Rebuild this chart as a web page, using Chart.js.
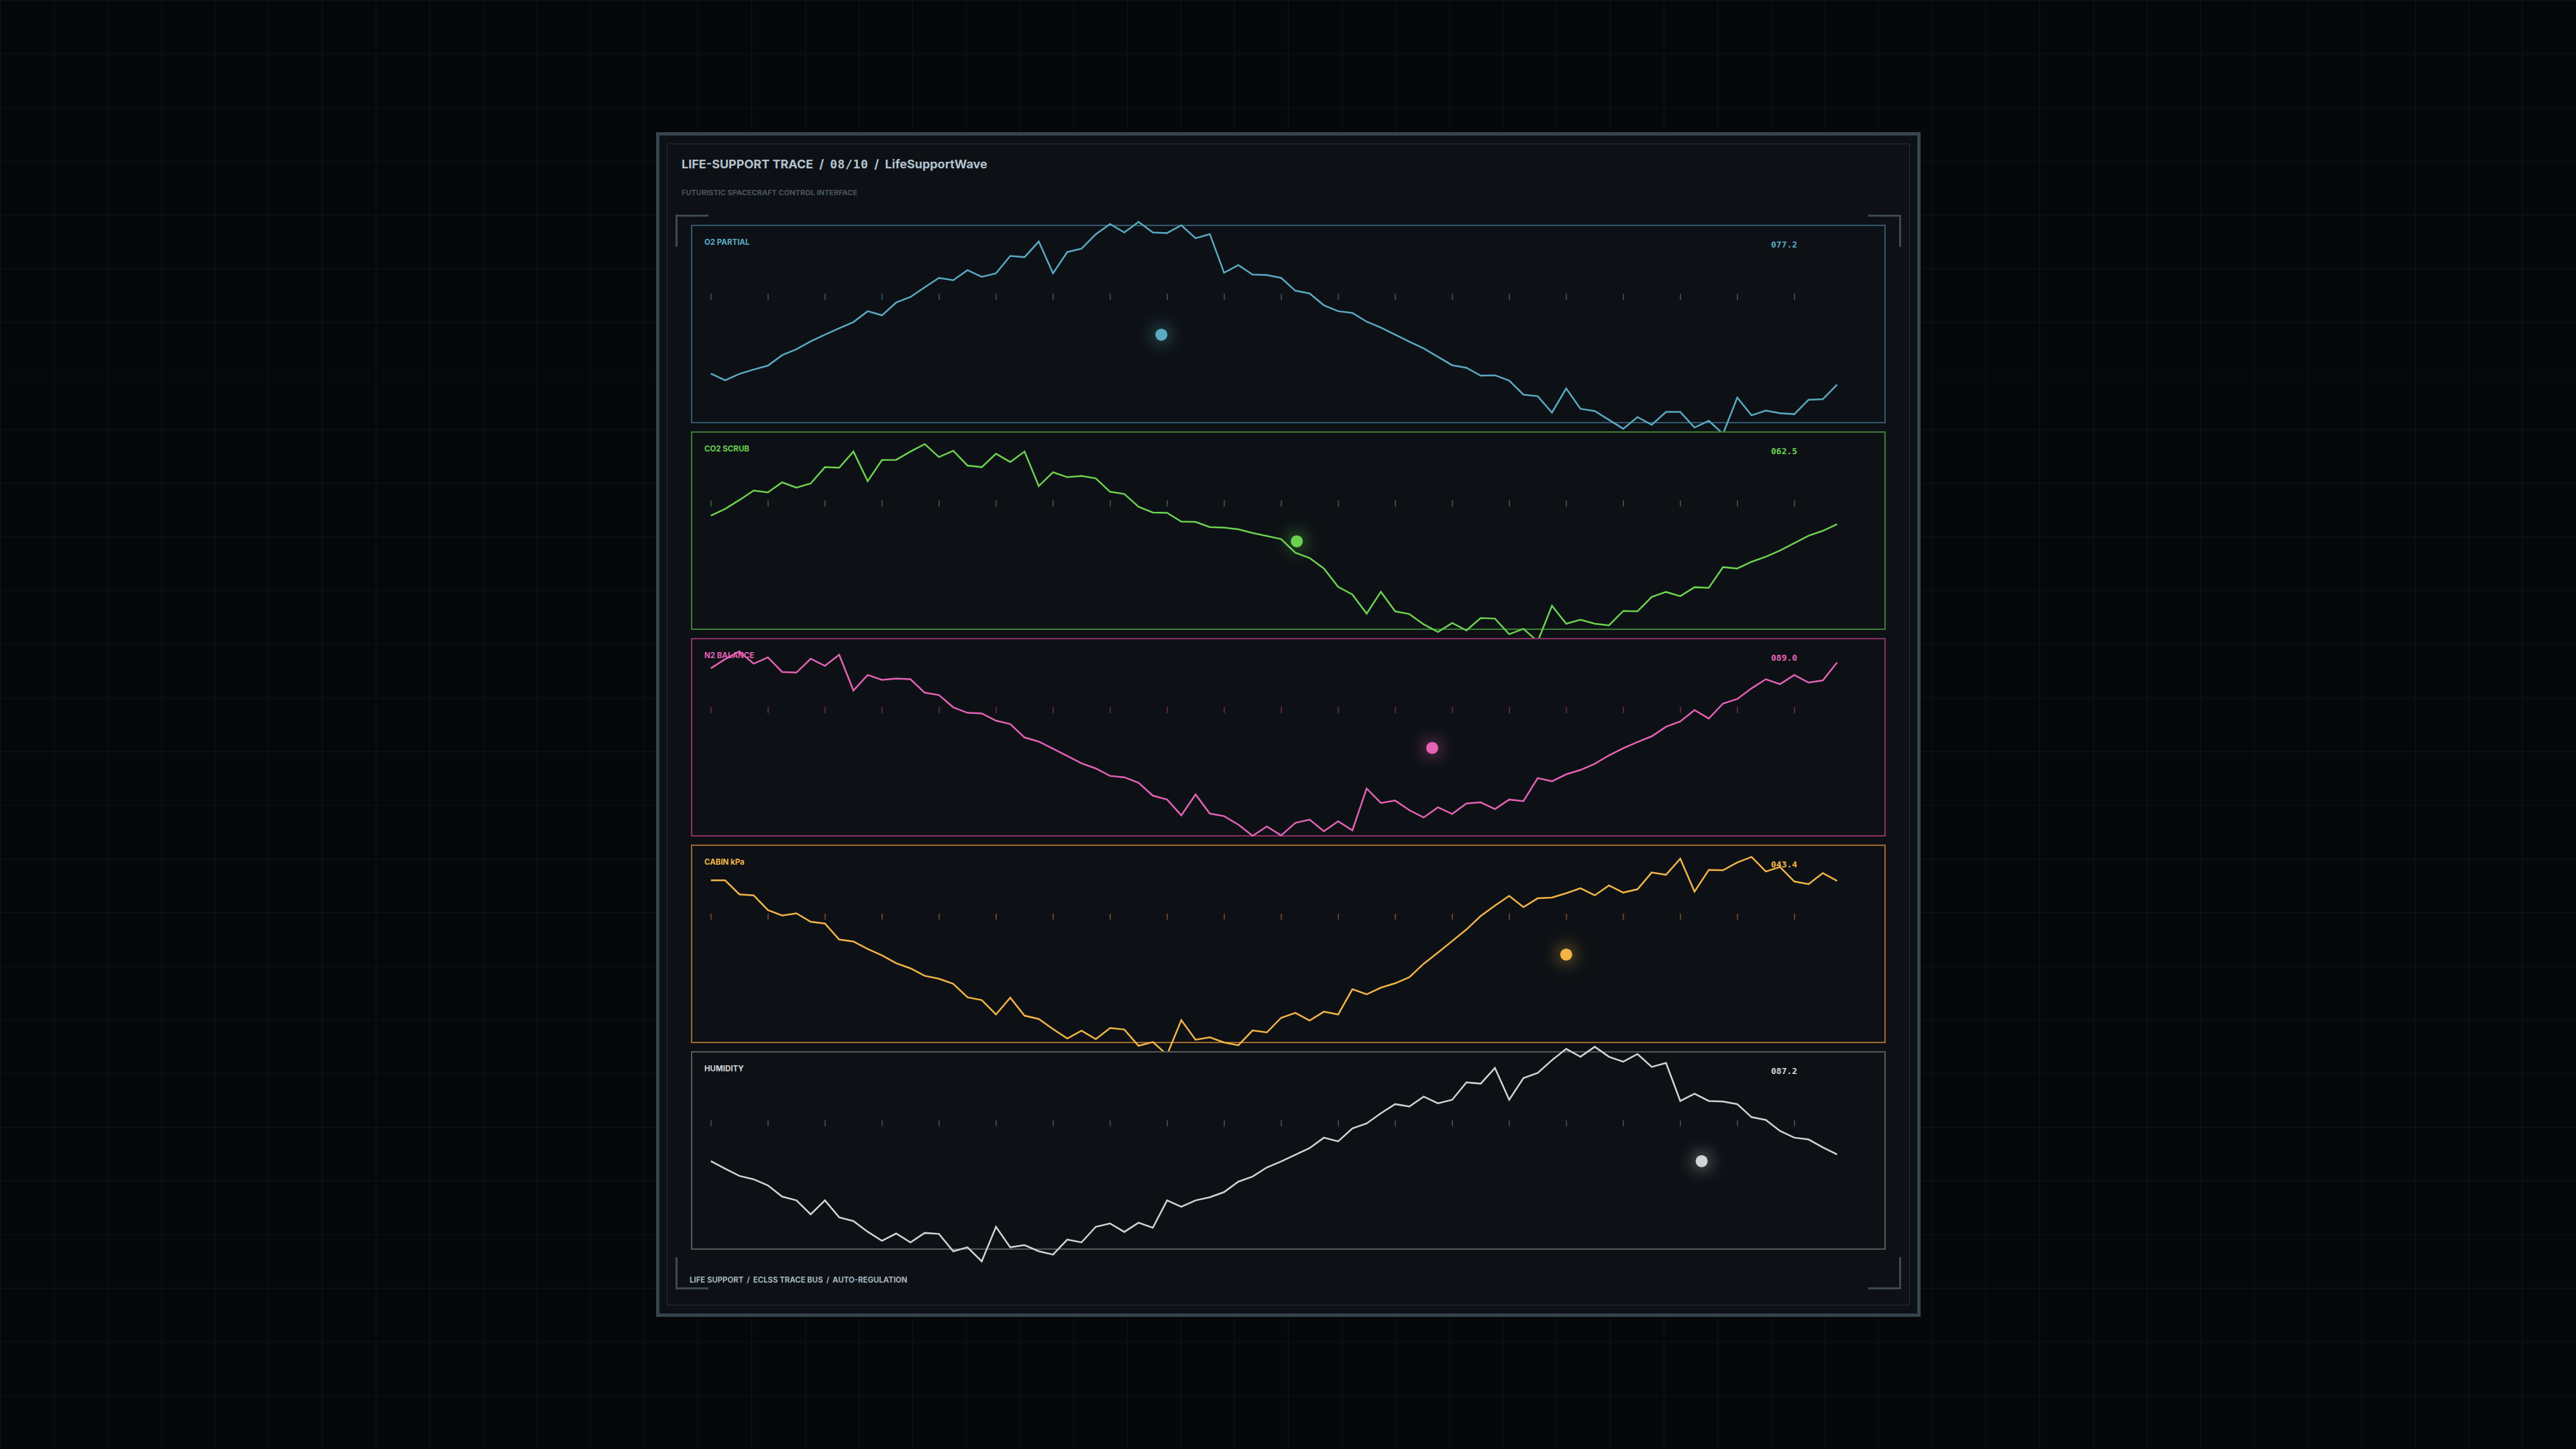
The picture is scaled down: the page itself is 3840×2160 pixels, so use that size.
<!DOCTYPE html>
<html>
<head>
<meta charset="utf-8">
<title>LifeSupportWave</title>
<script src="https://cdn.jsdelivr.net/npm/chart.js@4.4.1/dist/chart.umd.min.js"></script>
<style>
  html, body { margin: 0; padding: 0; }
  body {
    width: 3840px; height: 2160px; overflow: hidden; position: relative;
    background-color: #05080b;
    background-image:
      linear-gradient(rgba(28, 40, 50, 0.35) 1px, transparent 1px),
      linear-gradient(90deg, rgba(28, 40, 50, 0.35) 1px, transparent 1px);
    background-size: 80px 80px;
    font-family: Inter, "Noto Sans", sans-serif;
  }
  .frame {
    position: absolute; left: 978px; top: 197px; width: 1885px; height: 1766px;
    box-sizing: border-box; border: 5px solid #37444d; background: #0d1116;
  }
  .inner {
    position: absolute; left: 994px; top: 214px; width: 1853px; height: 1732px;
    box-sizing: border-box; border: 1px solid #262f36;
  }
  .title {
    position: absolute; left: 1016px; top: 236px; line-height: 1;
    font-size: 18px; font-weight: 700; color: #b3c3cd; white-space: nowrap;
  }
  .title .sep { margin: 0 9px; }
  .mono { font-family: "DejaVu Sans Mono", monospace; letter-spacing: 0.6px; }
  .subtitle {
    position: absolute; left: 1016px; top: 282px; line-height: 1;
    font-size: 11px; font-weight: 700; color: #4a555e; white-space: nowrap;
  }
  .footer {
    position: absolute; left: 1028px; top: 1903px; line-height: 1;
    font-size: 11.4px; font-weight: 700; color: #a6b3bb; white-space: nowrap;
  }
  .footer .sep { margin: 0 5px; }
  .bracket { position: absolute; width: 49px; height: 48px; box-sizing: border-box; border-color: #3d4952; border-style: solid; border-width: 0; }
  .panel {
    position: absolute; left: 1030px; width: 1781px; height: 296px;
    box-sizing: border-box; border: 2px solid; background: #0d1116;
  }
  .label {
    position: absolute; left: 1050px; line-height: 1;
    font-size: 11.5px; font-weight: 700; white-space: nowrap;
  }
  .readout {
    position: absolute; left: 2640px; line-height: 1;
    font-family: "DejaVu Sans Mono", monospace; font-size: 13px; font-weight: 700; white-space: nowrap;
  }
  canvas.trace { position: absolute; }
</style>
</head>
<body>
<div class="frame"></div>
<div class="inner"></div>
<div class="title">LIFE-SUPPORT TRACE<span class="sep">/</span><span class="mono">08/10</span><span class="sep">/</span>LifeSupportWave</div>
<div class="subtitle">FUTURISTIC SPACECRAFT CONTROL INTERFACE</div>
<div class="bracket" style="left:1007px;top:320px;border-top-width:3px;border-left-width:3px;"></div>
<div class="bracket" style="left:2785px;top:320px;border-top-width:3px;border-right-width:3px;"></div>
<div class="bracket" style="left:1007px;top:1874px;border-bottom-width:3px;border-left-width:3px;"></div>
<div class="bracket" style="left:2785px;top:1874px;border-bottom-width:3px;border-right-width:3px;"></div>
<div class="footer">LIFE SUPPORT<span class="sep">/</span>ECLSS TRACE BUS<span class="sep">/</span>AUTO-REGULATION</div>
<div id="panneaux"></div>

<script>
// 80 pas de temps, une valeur par pas (en % de la hauteur du panneau)
const o2Partial = [
  24.9, 21.5, 24.7, 26.9, 28.9, 34.2, 37.2, 41.2, 44.6, 47.8,
  51.0, 56.5, 54.4, 60.9, 63.7, 68.6, 73.4, 72.2, 77.3, 73.9,
  75.7, 84.5, 83.9, 91.8, 75.7, 86.5, 88.2, 95.5, 100.7, 96.4,
  101.8, 96.4, 96.1, 100.1, 93.5, 95.6, 76.0, 79.9, 75.1, 74.8,
  73.4, 66.9, 65.5, 59.5, 56.5, 55.6, 51.2, 48.2, 44.6, 41.0,
  37.6, 33.4, 29.1, 27.8, 23.8, 24.0, 21.3, 14.2, 13.4, 5.1,
  17.3, 7.0, 5.9, 1.4, -3.1, 2.8, -1.1, 5.4, 5.4, -2.5,
  0.9, -5.7, 12.7, 3.7, 6.1, 4.8, 4.3, 11.6, 11.9, 19.3
];
const co2Scrub = [
  57.6, 61.0, 65.5, 70.3, 69.4, 74.5, 71.8, 73.9, 82.2, 81.9,
  90.1, 75.1, 85.8, 85.9, 90.1, 93.9, 87.3, 90.5, 83.0, 82.2,
  89.0, 84.8, 90.1, 72.6, 79.6, 77.1, 77.7, 76.5, 69.7, 68.6,
  62.1, 59.2, 59.0, 54.6, 54.4, 51.8, 51.5, 50.7, 48.8, 47.3,
  45.7, 38.8, 36.1, 30.8, 21.5, 17.6, 7.9, 19.0, 9.1, 7.7,
  2.5, -1.4, 3.2, -0.6, 5.7, 5.4, -2.5, 0.2, -6.2, 11.9,
  2.8, 4.8, 2.8, 2.0, 9.3, 9.1, 16.4, 18.9, 16.8, 21.3,
  21.0, 31.5, 30.8, 34.2, 36.8, 39.9, 43.7, 47.4, 49.9, 53.3
];
const n2Balance = [
  85.0, 89.6, 93.5, 87.3, 90.5, 83.1, 82.8, 89.8, 86.2, 91.8,
  73.7, 81.6, 79.1, 79.8, 79.4, 72.6, 71.4, 65.2, 62.4, 62.1,
  58.4, 56.7, 49.9, 47.8, 44.2, 40.5, 36.8, 34.2, 30.4, 29.7,
  26.9, 20.4, 18.4, 10.4, 21.0, 11.3, 10.0, 5.7, 0.0, 4.8,
  0.2, 6.6, 8.2, 2.3, 7.4, 2.8, 24.0, 16.7, 17.9, 13.0,
  9.3, 14.5, 11.1, 16.4, 17.0, 13.6, 18.4, 17.6, 29.3, 27.7,
  31.2, 33.4, 36.5, 40.8, 44.4, 47.6, 50.5, 55.3, 58.0, 63.8,
  59.5, 67.1, 69.4, 74.8, 79.4, 76.9, 81.6, 77.7, 78.8, 87.9
];
const cabinKpa = [
  82.2, 82.2, 75.1, 74.6, 67.1, 64.4, 65.5, 61.2, 60.3, 52.2,
  51.2, 47.4, 44.2, 40.2, 37.6, 33.8, 32.3, 29.7, 22.9, 21.5,
  14.2, 22.7, 13.6, 11.9, 6.8, 2.0, 6.0, 1.7, 7.3, 6.6,
  -1.7, 0.2, -6.2, 11.3, 1.4, 2.6, 0.0, -1.4, 6.1, 5.1,
  12.5, 15.0, 11.1, 15.6, 14.2, 27.0, 24.4, 27.8, 30.0, 33.1,
  39.9, 45.6, 51.4, 57.3, 64.1, 69.4, 74.3, 68.6, 73.1, 73.5,
  75.7, 78.2, 74.6, 79.6, 76.0, 77.7, 86.2, 85.0, 93.2, 76.5,
  87.5, 87.3, 91.3, 94.1, 86.7, 89.0, 81.6, 80.3, 85.9, 81.9
];
const humidity = [
  44.6, 40.8, 37.1, 35.4, 32.3, 26.6, 24.7, 17.6, 24.7, 16.1,
  14.2, 8.8, 4.2, 7.9, 3.4, 8.2, 7.7, -1.1, 0.9, -6.2,
  11.3, 0.9, 2.0, -1.1, -2.8, 4.8, 3.4, 11.3, 13.0, 8.7,
  13.4, 10.8, 24.7, 21.5, 24.7, 26.3, 28.9, 34.2, 36.8, 41.4,
  44.4, 47.8, 51.2, 56.5, 54.6, 61.2, 63.7, 68.9, 73.5, 72.3,
  77.3, 73.9, 75.7, 84.5, 83.9, 91.8, 75.7, 86.7, 89.3, 95.8,
  101.5, 97.5, 102.6, 97.5, 95.0, 98.9, 92.4, 94.4, 75.1, 78.8,
  75.1, 74.8, 73.5, 66.9, 65.5, 59.9, 56.5, 55.6, 51.6, 48.0
];

const noms = ["O2 PARTIAL", "CO2 SCRUB", "N2 BALANCE", "CABIN kPa", "HUMIDITY"];
const lectures = ["077.2", "062.5", "089.0", "043.4", "087.2"];
const series = [o2Partial, co2Scrub, n2Balance, cabinKpa, humidity];
// position du curseur de balayage (index) et niveau (%)
const balayage = [31.6, 41.1, 50.6, 60.0, 69.5];
const niveauBalayage = 44.6;

const couleurs = [
  { trait: "#5aaac2", bord: "#34596e", tic: "rgba(70,110,135,0.8)" },
  { trait: "#6cd24e", bord: "#3c7d34", tic: "rgba(70,130,60,0.8)" },
  { trait: "#e462b4", bord: "#8c3062", tic: "rgba(140,50,100,0.8)" },
  { trait: "#f3b545", bord: "#a4672a", tic: "rgba(150,100,45,0.8)" },
  { trait: "#d2d4d4", bord: "#55595b", tic: "rgba(95,100,105,0.8)" },
];

const panneaux = document.getElementById("panneaux");
const hautPanneau = 336;
const pas = 308;
const hauteur = 294;
const marge = 40;

const ticsPlugin = {
  id: "tics",
  beforeDatasetsDraw(chart, args, opts) {
    const { ctx, chartArea, scales } = chart;
    ctx.save();
    ctx.strokeStyle = opts.color;
    ctx.lineWidth = 1.5;
    for (let i = 0; i < 80; i += 4) {
      const x = Math.round(scales.x.getPixelForValue(i));
      ctx.beginPath();
      ctx.moveTo(x, chartArea.top + 102);
      ctx.lineTo(x, chartArea.top + 111);
      ctx.stroke();
    }
    ctx.restore();
  },
};

const lueurPlugin = {
  id: "lueur",
  beforeDatasetDraw(chart, args) {
    if (args.index !== 1) return;
    chart.ctx.save();
    chart.ctx.shadowColor = chart.data.datasets[1].backgroundColor;
    chart.ctx.shadowBlur = 26;
  },
  afterDatasetDraw(chart, args) {
    if (args.index !== 1) return;
    chart.ctx.restore();
  },
};

series.forEach((valeurs, k) => {
  const top = hautPanneau + k * pas;
  const c = couleurs[k];

  const panneau = document.createElement("div");
  panneau.className = "panel";
  panneau.style.top = (top - 1) + "px";
  panneau.style.borderColor = c.bord;
  panneaux.appendChild(panneau);

  const label = document.createElement("div");
  label.className = "label";
  label.style.top = (top + 20) + "px";
  label.style.color = c.trait;
  label.textContent = noms[k];
  panneaux.appendChild(label);

  const lecture = document.createElement("div");
  lecture.className = "readout";
  lecture.style.top = (top + 22) + "px";
  lecture.style.color = c.trait;
  lecture.textContent = lectures[k];
  panneaux.appendChild(lecture);

  const canvas = document.createElement("canvas");
  canvas.className = "trace";
  canvas.style.left = "1031px";
  canvas.style.top = (top - marge) + "px";
  canvas.style.width = "1779px";
  canvas.style.height = (hauteur + 2 * marge) + "px";
  canvas.width = 1779;
  canvas.height = hauteur + 2 * marge;
  panneaux.appendChild(canvas);

  new Chart(canvas.getContext("2d"), {
    type: "line",
    data: {
      datasets: [
        {
          data: valeurs.map((v, i) => ({ x: i, y: v })),
          borderColor: c.trait,
          borderWidth: 2.5,
          pointRadius: 0,
          tension: 0,
          clip: false,
          borderJoinStyle: "miter",
        },
        {
          type: "scatter",
          data: [{ x: balayage[k], y: niveauBalayage }],
          backgroundColor: c.trait,
          borderWidth: 0,
          pointRadius: 9,
          clip: false,
        },
      ],
    },
    options: {
      responsive: false,
      animation: false,
      devicePixelRatio: 1,
      layout: { padding: { left: 28.7, right: 71.5, top: marge, bottom: marge } },
      scales: {
        x: { type: "linear", min: 0, max: 79, display: false },
        y: { min: 0, max: 100, display: false },
      },
      plugins: {
        legend: { display: false },
        tooltip: { enabled: false },
        tics: { color: c.tic },
      },
    },
    plugins: [ticsPlugin, lueurPlugin],
  });
});
</script>
</body>
</html>
